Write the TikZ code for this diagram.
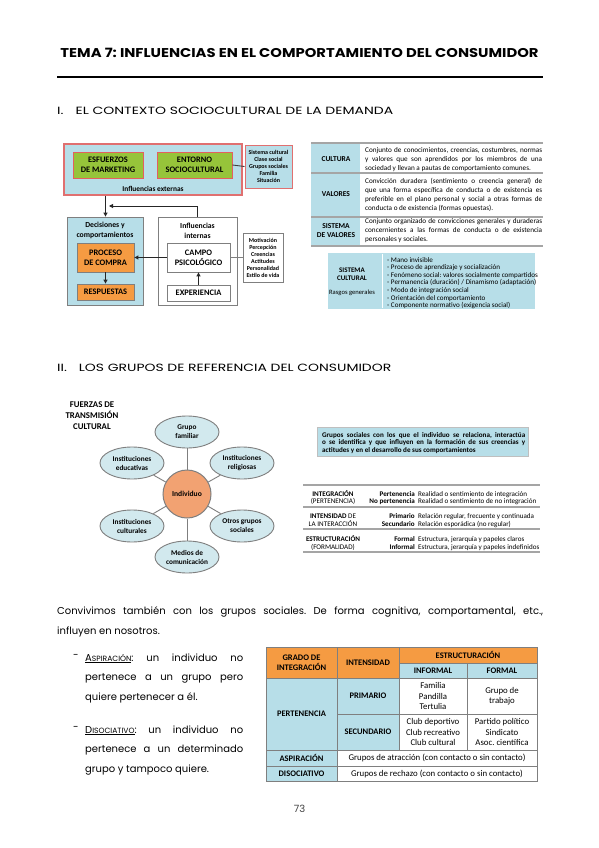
\documentclass[tikz,border=0pt]{standalone}
\usepackage{fontspec}
\setmainfont{Poppins}
\newfontfamily\carl{Carlito}
\usetikzlibrary{shapes.geometric,arrows.meta}
\definecolor{lblue}{HTML}{B7DEE8}
\definecolor{pinkb}{HTML}{E07070}
\definecolor{lgreen}{HTML}{96C43A}
\definecolor{orng}{HTML}{F59B42}
\definecolor{salmon}{HTML}{F2A272}
\definecolor{pblue}{HTML}{D2E9EE}
\definecolor{gline}{HTML}{7F7F7F}
\definecolor{rulec}{HTML}{A5A5A5}
\newcommand\fs[2]{\fontsize{#1}{#2}\selectfont}
\newcommand\J[2]{\makebox[#1][s]{#2}}
\newcommand\fsc[2]{#1{\fontsize{7.6}{9}\selectfont #2}}
\begin{document}
\frenchspacing
\begin{tikzpicture}[x=1pt,y=-1pt,
  every node/.style={inner sep=0pt},
  gbox/.style={draw=pinkb!85!red, line width=0.8pt, fill=lgreen, align=center, font=\carl\bfseries\fs{8.4}{10}},
  wbox/.style={draw=gline, line width=0.8pt, fill=white, align=center, font=\carl\bfseries\fs{8.4}{10}},
  obox/.style={draw=gline, line width=0.8pt, fill=orng, align=center, font=\carl\bfseries\fs{8.4}{10}},
  tiny/.style={align=center, font=\carl\bfseries\fs{6}{7}},
  arr/.style={-{Triangle[length=4pt,width=4pt]}, line width=0.9pt, black!85},
  ell/.style={ellipse, draw=gline, line width=0.9pt, fill=pblue, minimum width=64, minimum height=32, align=center, font=\carl\bfseries\fs{7.3}{9}},
  conn/.style={gline, line width=0.9pt},
  trule/.style={rulec, line width=1.4pt},
  tgrid/.style={gline, line width=0.7pt},
  th/.style={align=center, font=\carl\bfseries\fs{8.5}{10}},
  td/.style={align=center, font=\carl\fs{8.8}{10.5}}
]
\fill[white] (0,0) rectangle (599,848);
\useasboundingbox (0,0) rectangle (599,848);

% ---------- title ----------
\node[anchor=base] (title) at (299.5,57.5) {\resizebox{478pt}{9.3pt}{\bfseries\fs{13}{15}TEMA 7: INFLUENCIAS EN EL COMPORTAMIENTO DEL CONSUMIDOR}};
\draw[line width=1.6pt] (57,77) -- (543,77);
\node[anchor=base west] (s1) at (57,114) {\resizebox{336pt}{7.4pt}{\fs{10.5}{12}I.\hspace{9pt}EL CONTEXTO SOCIOCULTURAL DE LA DEMANDA}};

% ---------- diagram 1 ----------
\node[draw=pinkb, line width=1.2pt, fill=lblue, minimum width=178, minimum height=51] (ext) at (153,169.5) {};
\node[gbox, minimum width=70, minimum height=26] (mkt) at (108,165) {ESFUERZOS\\DE MARKETING};
\node[gbox, minimum width=75, minimum height=26] (ent) at (194.5,165) {ENTORNO\\SOCIOCULTURAL};
\node[font=\carl\bfseries\fs{7.4}{8}] (extl) at (153,189) {Influencias externas};
\node[draw=pinkb, line width=1pt, fill=lblue, minimum width=47, minimum height=43, tiny] (side) at (268.5,166.5) {Sistema cultural\\Clase social\\Grupos sociales\\Familia\\Situación};
\draw[conn, black!75] (ent.east) -- (side.west);

\node[draw=gline, line width=0.8pt, fill=lblue, minimum width=76, minimum height=88] (dec) at (105,261) {};
\node[align=center, font=\carl\bfseries\fs{7.7}{9.3}] (decl) at (105,230.5) {Decisiones y\\comportamientos};
\node[draw=gline, line width=0.8pt, fill=white, minimum width=79, minimum height=88] (intb) at (197.5,261) {};
\node[align=center, font=\carl\bfseries\fs{7.7}{9.8}] (intl) at (197.5,231) {Influencias\\internas};
\node[obox, minimum width=57, minimum height=29] (proc) at (105.5,257.5) {PROCESO\\DE COMPRA};
\node[obox, minimum width=57, minimum height=16] (resp) at (105.5,292) {RESPUESTAS};
\node[wbox, minimum width=63, minimum height=29] (campo) at (198.5,257.5) {CAMPO\\PSICOLÓGICO};
\node[wbox, minimum width=63, minimum height=16] (exp) at (198.5,293) {EXPERIENCIA};
\node[draw=gline, line width=0.8pt, fill=white, minimum width=40, minimum height=49, tiny] (motiv) at (263,257.5) {Motivación\\Percepción\\Creencias\\Actitudes\\Personalidad\\Estilo de vida};

\coordinate (fb) at (109,206);
\draw[arr] (ext.south -| proc) -- (dec.north -| proc);
\draw[arr] (intb.north) |- (fb);
\draw[arr] (campo.west) -- (proc.east);
\draw[arr] (proc.south) -- (resp.north);
\draw[arr] (exp.north) -- (campo.south);
\draw[conn] (campo.east) -- (motiv.west);

% ---------- table culture ----------
\fill[lblue] (311,143) rectangle (360,246);
\draw[trule] (311,143) -- (543,143);
\draw[trule] (311,173) -- (543,173);
\draw[trule] (311,217) -- (543,217);
\draw[trule] (311,246) -- (543,246);
\node[font=\carl\bfseries\fs{7.5}{8.5}] (lcul) at (336,159) {CULTURA};
\node[font=\carl\bfseries\fs{7.5}{8.5}] (lval) at (336,194) {VALORES};
\node[align=center, font=\carl\bfseries\fs{7.5}{8.5}] (lsis) at (336,230.5) {SISTEMA\\DE VALORES};
\node[anchor=base west, align=left, font=\carl\fs{7.2}{9.1}] (tcul) at (365,170.2) {\J{177pt}{Conjunto de conocimientos, creencias, costumbres, normas}\\\J{177pt}{y valores que son aprendidos por los miembros de una}\\sociedad y llevan a pautas de comportamiento comunes.};
\node[anchor=base west, align=left, font=\carl\fs{7.2}{8.9}] (tval) at (365,210.4) {\J{177pt}{Convicción duradera (sentimiento o creencia general) de}\\\J{177pt}{que una forma específica de conducta o de existencia es}\\\J{177pt}{preferible en el plano personal y social a otras formas de}\\conducta o de existencia (formas opuestas).};
\node[anchor=base west, align=left, font=\carl\fs{7.2}{9}] (tsis) at (365,241) {\J{177pt}{Conjunto organizado de convicciones generales y duraderas}\\\J{177pt}{concernientes a las formas de conducta o de existencia}\\personales y sociales.};

\node[fill=lblue, minimum width=207, minimum height=56] (scb) at (431.5,281) {};
\draw[white, line width=0.8pt] (382,254) -- (382,308);
\node[align=center, font=\carl\bfseries\fs{7}{8.5}] (scl) at (352,274) {SISTEMA\\CULTURAL};
\node[font=\carl\fs{6.6}{7}] (rg) at (352,293) {Rasgos generales};
\node[anchor=base west, align=left, font=\carl\fs{7.1}{7.6}] (scr) at (387,307.6) {- Mano invisible\\- Proceso de aprendizaje y socialización\\- Fenómeno social: valores socialmente compartidos\\- Permanencia (duración) / Dinamismo (adaptación)\\- Modo de integración social\\- Orientación del comportamiento\\- Componente normativo (exigencia social)};

% ---------- section II ----------
\node[anchor=base west] (s2) at (57,371) {\resizebox{334pt}{7.4pt}{\fs{10.5}{12}II.\hspace{9pt}LOS GRUPOS DE REFERENCIA DEL CONSUMIDOR}};
\node[align=center, font=\carl\bfseries\fs{8.8}{11}] (fz) at (92,416) {FUERZAS DE\\TRANSMISIÓN\\CULTURAL};

\node[circle, draw=gline, line width=1pt, fill=salmon, minimum size=48, font=\carl\bfseries\fs{7.6}{8}] (ind) at (187,494) {Individuo};
\node[ell] (gf) at (187,432) {Grupo\\familiar};
\node[ell] (ir) at (242,463) {Instituciones\\religiosas};
\node[ell] (og) at (242,526) {Otros grupos\\sociales};
\node[ell] (mc) at (187,557) {Medios de\\comunicación};
\node[ell] (ic) at (132,526) {Instituciones\\culturales};
\node[ell] (ie) at (132,463) {Instituciones\\educativas};
\draw[conn] (ind) -- (gf);
\draw[conn] (ind) -- (ir);
\draw[conn] (ind) -- (og);
\draw[conn] (ind) -- (mc);
\draw[conn] (ind) -- (ic);
\draw[conn] (ind) -- (ie);

\node[fill=lblue, draw=gray!50, line width=0.5pt, minimum width=211, minimum height=29] (gsbox) at (422.5,441.5) {};
\node[anchor=base west, align=left, font=\carl\bfseries\fs{7.1}{7.6}] (gst) at (322,452.2) {\J{203pt}{Grupos sociales con los que el individuo se relaciona, interactúa}\\\J{203pt}{o se identifica y que influyen en la formación de sus creencias y}\\actitudes y en el desarrollo de sus comportamientos};

\draw[trule] (303,485) -- (540,485);
\draw[trule] (303,507) -- (540,507);
\draw[trule] (303,529) -- (540,529);
\draw[trule] (303,552) -- (540,552);
\node[anchor=base, align=center, font=\carl\fs{7.1}{7.5}] (r1l) at (333,503.5) {\textbf{INTEGRACIÓN}\\(PERTENENCIA)};
\node[anchor=base east, align=right, font=\carl\bfseries\fs{7.1}{7.5}] (r1m) at (415,503.5) {Pertenencia\\No pertenencia};
\node[anchor=base west, align=left, font=\carl\fs{7.1}{7.5}] (r1r) at (418,503.5) {Realidad o sentimiento de integración\\Realidad o sentimiento de no integración};
\node[anchor=base, align=center, font=\carl\fs{7.1}{7.5}] (r2l) at (333,526) {\textbf{INTENSIDAD} DE\\LA INTERACCIÓN};
\node[anchor=base east, align=right, font=\carl\bfseries\fs{7.1}{7.5}] (r2m) at (415,526) {Primario\\Secundario};
\node[anchor=base west, align=left, font=\carl\fs{7.1}{7.5}] (r2r) at (418,526) {Relación regular, frecuente y continuada\\Relación esporádica (no regular)};
\node[anchor=base, align=center, font=\carl\fs{7.1}{7.5}] (r3l) at (333,549) {\textbf{ESTRUCTURACIÓN}\\(FORMALIDAD)};
\node[anchor=base east, align=right, font=\carl\bfseries\fs{7.1}{7.5}] (r3m) at (415,549) {Formal\\Informal};
\node[anchor=base west, align=left, font=\carl\fs{7.1}{7.5}] (r3r) at (418,549) {Estructura, jerarquía y papeles claros\\Estructura, jerarquía y papeles indefinidos};

% ---------- text ----------
\node[anchor=base west, align=left, font=\fs{10}{20}] (par) at (57,634) {\J{486pt}{Convivimos también con los grupos sociales. De forma cognitiva, comportamental, etc.,}\\influyen en nosotros.};
\node[anchor=base, font=\fs{10}{12}] (d1) at (76,658) {-};
\node[anchor=base west, align=left, font=\fs{10}{19.7}] (b1) at (85,700.4) {\J{158pt}{\underline{\fsc{A}{SPIRACIÓN}}: un individuo no}\\\J{158pt}{pertenece a un grupo pero}\\quiere pertenecer a él.};
\node[anchor=base, font=\fs{10}{12}] (d2) at (76,730) {-};
\node[anchor=base west, align=left, font=\fs{10}{19.7}] (b2) at (85,772.4) {\J{158pt}{\underline{\fsc{D}{ISOCIATIVO}}: un individuo no}\\\J{158pt}{pertenece a un determinado}\\grupo y tampoco quiere.};

% ---------- bottom table ----------
\fill[orng] (266,647) rectangle (399,678);
\fill[orng] (399,647) rectangle (537,663);
\fill[lblue] (399,663) rectangle (537,678);
\fill[lblue] (266,678) rectangle (399,750);
\fill[lblue] (266,750) rectangle (337,781);
\draw[tgrid] (266,647) rectangle (537,781);
\draw[tgrid] (337,647) -- (337,781);
\draw[tgrid] (399,647) -- (399,750);
\draw[tgrid] (467,663) -- (467,750);
\draw[tgrid] (399,663) -- (537,663);
\draw[tgrid] (266,678) -- (537,678);
\draw[tgrid] (337,714) -- (537,714);
\draw[tgrid] (266,750) -- (537,750);
\draw[tgrid] (266,766) -- (537,766);
\node[th] (hg) at (301.5,662.5) {GRADO DE\\INTEGRACIÓN};
\node[th] (hi) at (368,663) {INTENSIDAD};
\node[th] (he) at (468,655) {ESTRUCTURACIÓN};
\node[th] (hin) at (433,670.5) {INFORMAL};
\node[th] (hfo) at (502,670.5) {FORMAL};
\node[th] (per) at (301.5,714) {PERTENENCIA};
\node[th] (pri) at (368,696) {PRIMARIO};
\node[th] (sec) at (368,732) {SECUNDARIO};
\node[td] (c11) at (433,696) {Familia\\Pandilla\\Tertulia};
\node[td] (c12) at (502,696) {Grupo de\\trabajo};
\node[td] (c21) at (433,732) {Club deportivo\\Club recreativo\\Club cultural};
\node[td] (c22) at (502,732) {Partido político\\Sindicato\\Asoc. científica};
\node[th] (asp) at (301.5,758) {ASPIRACIÓN};
\node[td] (aspt) at (437,758) {Grupos de atracción (con contacto o sin contacto)};
\node[th] (dis) at (301.5,773.5) {DISOCIATIVO};
\node[td] (dist) at (437,773.5) {Grupos de rechazo (con contacto o sin contacto)};

\node[anchor=base, font=\fs{10}{12}, text=black!75] (pg) at (299.5,812) {73};
\end{tikzpicture}
\end{document}
